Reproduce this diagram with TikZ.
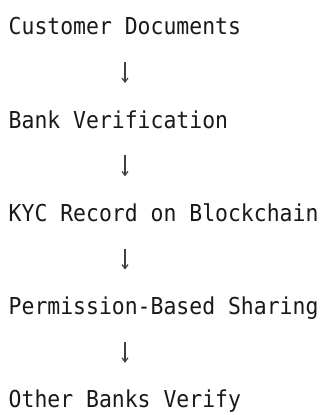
\documentclass[tikz,border=0pt]{standalone}
\usepackage{fontspec}
\setmonofont{DejaVu Sans Mono}[FakeStretch=0.92]
\usetikzlibrary{arrows.meta}
\tikzset{%
  StepText/.style={anchor=base west,inner sep=0pt,text height=18pt,text depth=5pt,
    font=\ttfamily\fontsize{23.3}{28}\selectfont,text=black!90},
  StepArrow/.style={draw=black!75,line width=1.2pt,shorten <=22pt,shorten >=27pt,
    -{Straight Barb[length=4pt,width=6pt]}}
}

\begin{document}
\begin{tikzpicture}[x=1pt,y=1pt]
  \useasboundingbox (0,0) rectangle (327,415);
  \foreach \name [count=\xi] in {
    Customer Documents,Bank Verification,KYC Record on Blockchain,
    Permission-Based Sharing,Other Banks Verify
  }{ \node[StepText] (n\xi) at (8.5,{380-(\xi-1)*93.25}) {\name};}
  \coordinate (col) at (125,0);
  % arrows between the steps
  \foreach \xi [evaluate=\xi as \xn using int(\xi+1)] in {1,...,4}
    \draw[StepArrow] (n\xi.south -| col) -- (n\xn.north -| col);
\end{tikzpicture}
\end{document}
